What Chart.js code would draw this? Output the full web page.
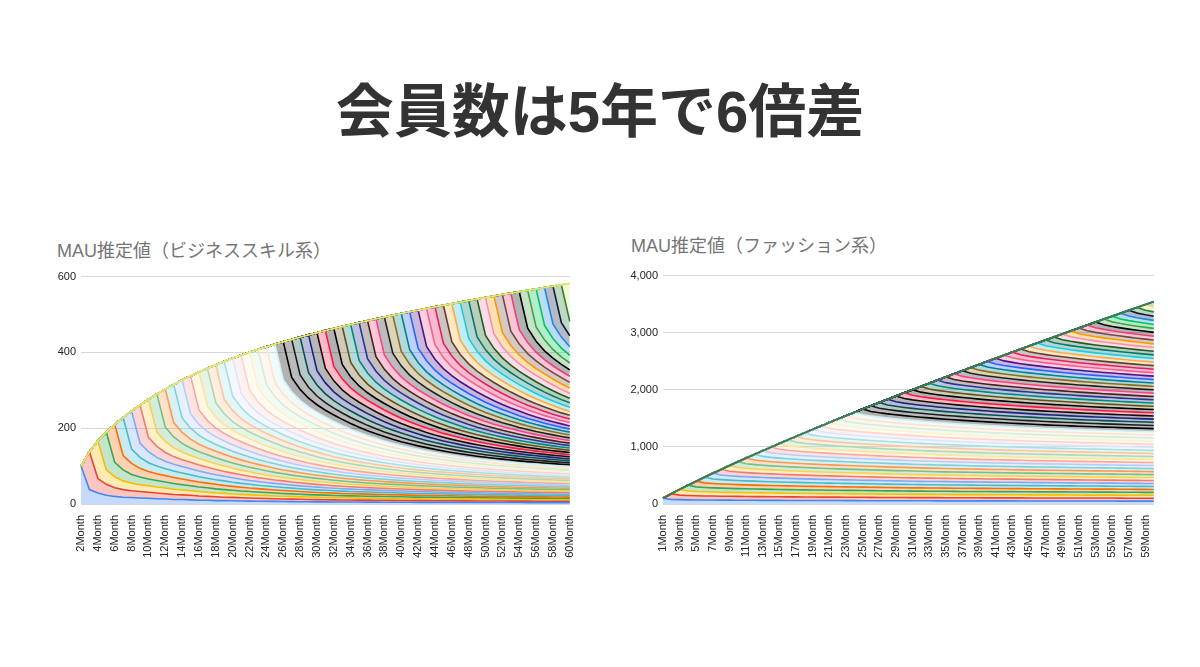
<!DOCTYPE html>
<html>
<head>
<meta charset="utf-8">
<script src="https://cdn.jsdelivr.net/npm/chart.js@4.4.1/dist/chart.umd.min.js"></script>
<style>
  body { margin: 0; width: 1200px; height: 667px; background: #fff; position: relative; overflow: hidden; }
  h1 { position: absolute; left: 0; top: 77px; width: 1200px; margin: 0; text-align: center;
       font: bold 58px/70px "Liberation Sans", "Noto Sans CJK JP", sans-serif; color: #333; }
  .ctitle { position: absolute; font: 18px/24px "Liberation Sans", "Noto Sans CJK JP", sans-serif; color: #757575; white-space: nowrap; }
  .box { position: absolute; }
</style>
</head>
<body>
<h1>会員数は5年で6倍差</h1>
<div class="ctitle" style="left:57px;top:239px">MAU推定値（ビジネススキル系）</div>
<div class="ctitle" style="left:631px;top:234px">MAU推定値（ファッション系）</div>
<div class="box" style="left:40px;top:265px;width:546px;height:311px"><canvas id="left"></canvas></div>
<div class="box" style="left:610px;top:264px;width:560px;height:312px"><canvas id="right"></canvas></div>
<script>
// months on the x axis
const leftLabels = ["2Month","3Month","4Month","5Month","6Month","7Month","8Month","9Month","10Month","11Month",
  "12Month","13Month","14Month","15Month","16Month","17Month","18Month","19Month","20Month","21Month",
  "22Month","23Month","24Month","25Month","26Month","27Month","28Month","29Month","30Month","31Month",
  "32Month","33Month","34Month","35Month","36Month","37Month","38Month","39Month","40Month","41Month",
  "42Month","43Month","44Month","45Month","46Month","47Month","48Month","49Month","50Month","51Month",
  "52Month","53Month","54Month","55Month","56Month","57Month","58Month","59Month","60Month"];
const rightLabels = ["1Month","2Month","3Month","4Month","5Month","6Month","7Month","8Month","9Month","10Month",
  "11Month","12Month","13Month","14Month","15Month","16Month","17Month","18Month","19Month","20Month",
  "21Month","22Month","23Month","24Month","25Month","26Month","27Month","28Month","29Month","30Month",
  "31Month","32Month","33Month","34Month","35Month","36Month","37Month","38Month","39Month","40Month",
  "41Month","42Month","43Month","44Month","45Month","46Month","47Month","48Month","49Month","50Month",
  "51Month","52Month","53Month","54Month","55Month","56Month","57Month","58Month","59Month","60Month"];

// active users left from one monthly cohort of 100, by months since joining
const leftRetention = [100, 38, 29, 23, 20, 18, 17, 16, 15, 14, 13, 12, 12, 11, 10, 10, 9, 9,
  8.4, 8.0, 7.7, 7.4, 7.1, 6.8, 6.5,
  6.3, 6.1, 5.9, 5.7, 5.6, 5.4, 5.3, 5.2, 5.1, 5.0,
  4.9, 4.8, 4.7, 4.6, 4.5, 4.4, 4.4, 4.3, 4.2, 4.2, 4.1, 4.1, 4.0, 4.0, 3.9, 3.9, 3.8, 3.8,
  3.7, 3.7, 3.7, 3.6, 3.6, 3.6];
const rightRetention = [100, 80, 76, 73, 71, 70, 69, 68, 67, 66, 65, 65, 64,
  63, 63, 62, 62, 61, 61, 60, 60, 60, 59, 59, 58,
  58, 57, 57, 57, 56, 56, 56, 56, 55, 55, 55, 55, 55, 54, 54, 54, 54, 54,
  53, 53, 53, 53, 53, 53, 52, 52, 52, 52, 52, 52, 51, 51, 51, 51, 51];

const palette = [
  "#4285f4","#ea4335","#fbbc04","#34a853","#ff6d01","#46bdc6",
  "#7baaf7","#f07b72","#fcd04f","#71c287","#ff994d","#7ed1d7",
  "#b3cefb","#f7a7a1","#fde49b","#a8dab5","#ffc599","#a6e0e4",
  "#d9e6fd","#fbd3d0","#fef1cd","#d4edda","#ffe2cc","#d2f0f2",
  "#000000","#1c1c1c","#0b4f4a","#1a237e","#101010","#ff1744",
  "#000000","#6b4e16","#00897b","#283593","#3e2723","#ff4081",
  "#212121","#8d6e1f","#00838f","#2962ff","#4a148c","#f06292",
  "#e91e63","#5d4037","#ffab40","#26c6da","#00796b","#1b5e20",
  "#f48fb1","#ff9800","#6d4c41","#ec407a","#000000","#43a047",
  "#00c853","#1e88e5","#0d1b3e","#2e7d32","#dce775","#3b7a57"
];

const FONT = "'Liberation Sans', Arial, sans-serif";

function fade(hex, a) {
  const n = parseInt(hex.slice(1), 16);
  return "rgba(" + (n >> 16) + "," + ((n >> 8) & 255) + "," + (n & 255) + "," + a + ")";
}

// one stacked layer per cohort, starting in the month it joined
function cohorts(labels, retention) {
  return labels.map((lab, k) => ({
    label: lab,
    data: labels.map((_, i) => i < k ? 0 : retention[i - k]),
    borderColor: palette[k],
    backgroundColor: fade(palette[k], 0.3),
    borderWidth: 1.6,
    fill: k === 0 ? "origin" : "-1",
    pointRadius: 0,
    tension: 0
  }));
}

// Sheets draws the last series on top, so its line traces the outline
const envelope = {
  id: "envelope",
  afterDatasetsDraw(chart) {
    const last = chart.data.datasets.length - 1;
    const pts = chart.getDatasetMeta(last).data;
    const c = chart.ctx;
    c.save();
    c.beginPath();
    pts.forEach((p, i) => i ? c.lineTo(p.x, p.y) : c.moveTo(p.x, p.y));
    c.strokeStyle = chart.data.datasets[last].borderColor;
    c.lineWidth = 2;
    c.stroke();
    c.restore();
  }
};

function makeChart(id, labels, retention, yMax, yStep, yWidth, padRight) {
  new Chart(document.getElementById(id), {
    type: "line",
    data: { labels: labels, datasets: cohorts(labels, retention) },
    options: {
      responsive: true,
      maintainAspectRatio: false,
      animation: false,
      layout: { padding: { top: 10, right: padRight, left: 0, bottom: 0 } },
      plugins: { legend: { display: false }, tooltip: { enabled: false } },
      scales: {
        x: {
          grid: { display: false },
          border: { display: false },
          ticks: {
            autoSkip: false, minRotation: 90, maxRotation: 90, padding: 3,
            color: "#222", font: { family: FONT, size: 11 },
            callback(v, i) { return i % 2 === 0 ? this.getLabelForValue(v) : ""; }
          },
          afterFit(s) { s.height = 72; }
        },
        y: {
          stacked: true, min: 0, max: yMax,
          grid: { color: "#d6d6d6", drawTicks: false },
          border: { display: false },
          ticks: { stepSize: yStep, padding: 5, color: "#222", font: { family: FONT, size: 11 } },
          afterFit(s) { s.width = yWidth; }
        }
      }
    },
    plugins: [envelope]
  });
}

makeChart("left", leftLabels, leftRetention, 600, 200, 41, 5);
makeChart("right", rightLabels, rightRetention, 4000, 1000, 53, 10);
</script>
</body>
</html>
